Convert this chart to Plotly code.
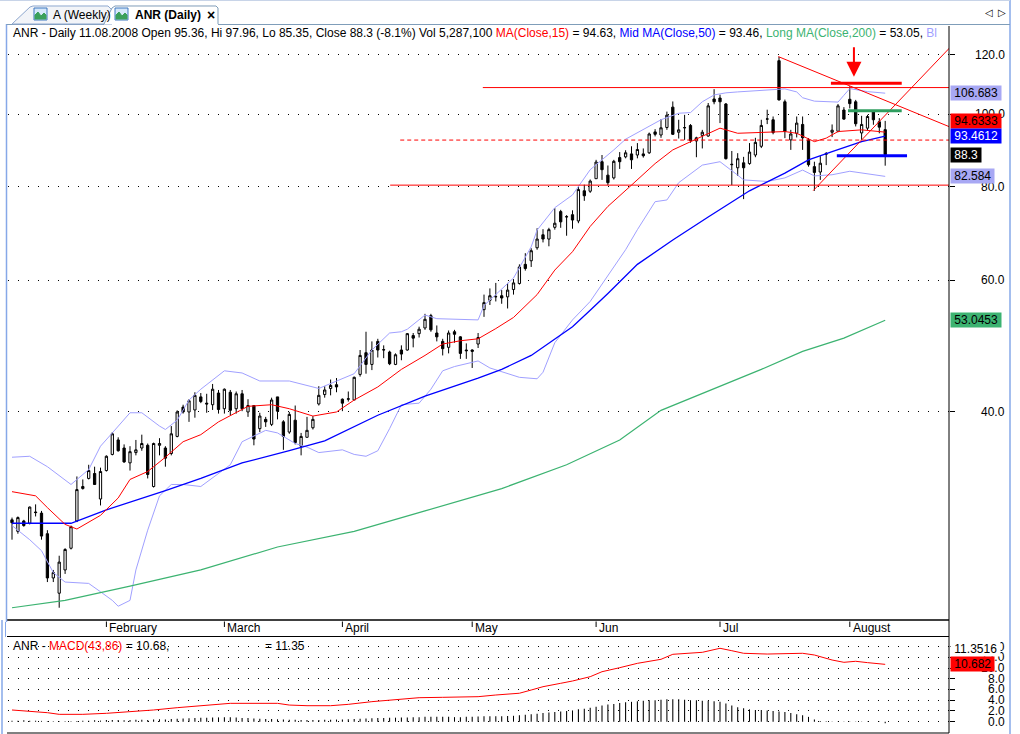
import math
import pandas as pd
import plotly.graph_objects as go

# ---------------- data ----------------
holidays = ["2008-01-21", "2008-02-18", "2008-03-21", "2008-05-26", "2008-07-04"]
dates = [d for d in pd.bdate_range("2008-01-09", "2008-08-11") if d.strftime("%Y-%m-%d") not in holidays]

opens = [28.7, 27.7, 28.6, 28.4, 29.4, 29.3, 27.5, 24.0, 22.9, 24.6,
         26.3, 28.6, 31.6, 32.6, 33.1, 30.6, 33.4, 35.1, 36.7, 35.8,
         34.2, 35.3, 35.8, 36.1, 31.8, 36.1, 35.8, 35.2, 37.1, 40.6,
         40.0, 40.25, 41.9, 41.1, 40.9, 42.4, 40.4, 42.5, 40.4, 42.3,
         40.0, 40.8, 38.0, 39.1, 38.5, 41.9, 38.8, 37.6, 39.0, 36.0,
         37.0, 38.1, 41.0, 42.2, 43.0, 43.5, 41.6, 41.6, 41.5, 44.9,
         48.0, 46.3, 49.7, 48.4, 48.1, 46.3, 48.4, 48.4, 50.6, 50.9,
         51.8, 53.8, 51.0, 49.7, 48.8, 51.2, 50.4, 48.4, 48.4, 49.3,
         54.8, 56.4, 57.0, 57.2, 57.0, 58.3, 59.4, 63.0, 63.7, 66.3,
         69.0, 68.1, 70.6, 74.1, 72.9, 73.4, 72.0, 79.0, 78.9, 82.0,
         86.4, 82.9, 82.2, 87.5, 87.7, 88.5, 88.2, 88.5, 88.8, 94.7,
         93.8, 96.0, 102.2, 94.6, 95.9, 96.6, 92.1, 93.7, 93.5, 104.8,
         105.1, 103.2, 85.6, 84.8, 86.1, 85.9, 88.2, 90.6, 98.5, 98.3,
         117.9, 103.9, 92.4, 94.3, 96.9, 92.4, 85.1, 83.7, 88.4, 94.6,
         94.9, 101.3, 104.7, 103.9, 94.4, 95.8, 100.7, 97.7, 95.36]
highs = [28.9, 29.0, 28.7, 29.9, 30.1, 29.5, 27.8, 24.6, 25.7, 26.3,
         28.2, 32.8, 32.5, 34.0, 33.8, 33.7, 35.0, 37.6, 37.0, 36.2,
         36.0, 36.7, 37.3, 36.3, 36.4, 36.9, 36.0, 38.3, 40.2, 40.9,
         41.6, 42.5, 42.4, 42.3, 43.6, 42.8, 43.0, 42.8, 42.6, 42.8,
         41.6, 40.8, 39.9, 39.4, 41.8, 41.9, 39.0, 40.0, 40.8, 37.5,
         39.4, 39.5, 43.3, 43.3, 44.2, 44.4, 41.7, 42.6, 44.6, 48.4,
         51.2, 49.7, 50.1, 49.1, 48.3, 47.9, 49.1, 51.0, 51.0, 52.0,
         54.1, 54.1, 52.2, 50.1, 51.4, 51.5, 50.5, 49.4, 48.5, 51.0,
         57.4, 58.5, 59.5, 58.2, 59.5, 60.2, 63.0, 65.2, 66.2, 70.4,
         70.2, 70.5, 74.9, 74.5, 73.3, 74.4, 80.0, 80.5, 81.8, 86.9,
         88.2, 85.4, 86.9, 89.0, 89.5, 90.6, 91.5, 90.0, 94.5, 95.5,
         98.5, 100.8, 104.0, 98.3, 99.8, 97.0, 93.3, 95.3, 103.5, 108.0,
         106.2, 103.5, 89.3, 88.7, 87.7, 91.5, 93.0, 98.3, 101.4, 99.3,
         119.3, 104.6, 95.3, 99.3, 99.3, 92.9, 86.4, 87.9, 89.0, 96.9,
         103.2, 102.2, 109.0, 104.5, 99.5, 99.8, 101.0, 98.8, 97.96]
lows = [27.0, 27.5, 28.1, 28.3, 29.0, 27.0, 23.7, 23.7, 21.9, 24.3,
        26.2, 28.5, 31.5, 32.5, 32.0, 30.0, 33.3, 35.0, 35.4, 34.2,
        33.4, 35.0, 35.5, 32.6, 31.7, 35.0, 33.8, 35.0, 37.0, 39.8,
        38.8, 39.3, 41.1, 39.9, 40.25, 39.8, 39.8, 39.6, 39.8, 40.1,
        39.4, 36.1, 37.6, 38.2, 38.3, 39.1, 35.6, 37.4, 36.2, 35.0,
        37.0, 37.9, 40.8, 41.8, 42.1, 42.5, 40.1, 41.3, 41.5, 44.6,
        45.0, 45.5, 47.3, 47.2, 46.2, 46.2, 46.9, 48.3, 48.8, 50.3,
        51.5, 51.2, 49.7, 47.6, 47.9, 49.5, 47.1, 47.1, 45.8, 48.7,
        53.6, 55.6, 56.2, 55.8, 55.0, 57.4, 59.2, 61.8, 62.5, 65.9,
        67.4, 66.6, 70.1, 70.5, 68.8, 70.3, 71.5, 76.6, 78.5, 82.0,
        81.7, 80.4, 81.8, 84.5, 87.3, 84.5, 87.3, 87.5, 88.5, 93.4,
        93.0, 95.3, 93.8, 92.8, 92.4, 91.6, 87.6, 90.0, 93.3, 103.1,
        97.3, 87.0, 80.4, 82.7, 77.0, 85.6, 87.6, 90.1, 97.0, 94.0,
        104.3, 92.9, 89.6, 93.1, 89.6, 85.1, 79.0, 81.7, 85.5, 93.2,
        94.6, 98.3, 101.8, 96.3, 92.4, 95.1, 96.8, 94.3, 85.35]
closes = [28.45, 28.9, 28.2, 29.85, 29.35, 27.3, 24.0, 24.4, 25.2, 26.2,
          28.1, 31.5, 31.8, 33.4, 32.0, 33.3, 34.9, 37.4, 35.5, 34.3,
          35.4, 35.6, 36.3, 33.0, 36.3, 36.3, 34.7, 37.4, 40.0, 40.0,
          41.4, 42.1, 41.3, 41.0, 42.9, 40.3, 42.9, 40.2, 42.3, 40.4,
          40.8, 36.8, 39.5, 38.8, 41.5, 40.1, 37.1, 39.7, 36.4, 37.1,
          37.8, 39.1, 42.1, 42.8, 43.4, 43.2, 41.1, 41.65, 44.5, 47.6,
          46.3, 48.4, 48.4, 48.45, 46.4, 47.7, 47.8, 50.9, 50.2, 51.6,
          53.2, 51.5, 50.4, 48.6, 51.0, 50.8, 47.9, 48.3, 48.2, 50.3,
          56.0, 57.2, 57.05, 56.8, 58.2, 59.5, 62.5, 62.2, 65.7, 68.1,
          68.1, 70.1, 71.5, 71.8, 72.95, 72.2, 79.3, 77.8, 81.4, 86.3,
          84.3, 81.0, 86.5, 86.4, 88.8, 86.9, 89.7, 88.0, 94.1, 94.0,
          95.9, 99.7, 94.0, 95.3, 95.95, 92.2, 93.0, 94.6, 102.6, 103.9,
          103.9, 87.2, 85.7, 87.2, 84.8, 89.0, 91.7, 96.6, 98.55, 94.5,
          104.5, 94.8, 94.1, 97.3, 93.0, 85.6, 83.6, 86.0, 88.6, 95.2,
          102.6, 98.5, 103.3, 97.1, 96.9, 99.3, 98.3, 96.1, 88.3]
volume_last = "5,287,100"

ma15_idx = [0, 4, 6, 9, 11, 15, 18, 20, 23, 26, 29, 32, 35, 40, 44, 47, 51, 55, 58, 62,
            66, 70, 73, 76, 79, 82, 85, 89, 92, 95, 98, 101, 105, 109, 112, 115, 118, 120, 123, 128,
            131, 133, 136, 138, 140, 144, 148]
ma15_val = [31.3, 30.9, 29.8, 28.3, 27.9, 29.1, 30.7, 32.5, 33.3, 34.8, 36.5, 37.3, 38.8, 40.7, 40.9, 40.4, 39.5, 40.0, 41.5, 43.2,
            45.6, 47.6, 49.3, 49.8, 50.1, 51.7, 53.5, 57.4, 61.9, 65.5, 70.8, 75.3, 80.4, 85.9, 89.6, 91.8, 94.1, 95.8, 94.3, 94.5,
            94.8, 94.3, 91.9, 92.9, 94.8, 95.3, 94.63]
ma50_idx = [0, 10, 16, 20, 26, 32, 39, 47, 53, 62, 70, 79, 83, 88, 93, 95, 98, 101, 106, 112,
            118, 123, 125, 131, 135, 139, 144, 148]
ma50_val = [28.4, 28.4, 29.6, 30.3, 31.4, 32.6, 34.2, 35.5, 36.6, 39.6, 42.0, 44.4, 45.6, 47.6, 50.7, 52.0, 54.7, 57.6, 63.0, 67.9,
            72.9, 77.3, 79.0, 83.4, 86.9, 89.1, 91.9, 93.46]
ma200_idx = [0, 9, 20, 32, 45, 58, 70, 83, 94, 103, 110, 120, 127, 134, 141, 148]
ma200_val = [21.9, 22.4, 23.4, 24.6, 26.4, 27.7, 29.5, 31.6, 34.0, 36.7, 40.2, 43.3, 45.6, 48.2, 50.2, 53.05]
bbu_idx = [0, 3, 6, 10, 13, 15, 17, 20, 22, 25, 26, 28, 30, 32, 36, 39, 42, 47, 52, 55,
           58, 61, 64, 66, 67, 70, 72, 79, 80, 85, 88, 89, 92, 95, 98, 102, 104, 110, 113, 115,
           117, 119, 121, 123, 128, 131, 133, 134, 136, 140, 141, 142, 145, 148]
bbu_val = [34.8, 34.9, 33.8, 32.0, 33.5, 36.0, 37.5, 39.9, 39.9, 38.3, 37.9, 39.0, 41.5, 42.9, 45.4, 45.1, 44.0, 44.0, 43.0, 44.0,
           45.0, 48.4, 51.0, 51.2, 51.6, 53.9, 53.3, 53.1, 55.5, 60.4, 66.5, 70.0, 75.0, 78.0, 84.3, 89.6, 92.6, 98.3, 100.3, 100.5,
           103.9, 106.1, 106.8, 107.1, 107.8, 108.1, 107.1, 105.2, 104.1, 103.8, 106.0, 108.2, 107.2, 106.683]
bbl_idx = [0, 3, 5, 7, 9, 13, 15, 17, 18, 20, 21, 23, 25, 27, 29, 32, 37, 39, 43, 45,
           48, 50, 52, 55, 56, 58, 60, 62, 64, 66, 69, 71, 73, 75, 79, 81, 86, 89, 90, 92,
           95, 98, 101, 104, 106, 109, 111, 113, 117, 119, 120, 123, 124, 128, 131, 134, 136, 139, 142, 148]
bbl_val = [28.2, 27.0, 26.1, 24.4, 23.7, 23.6, 23.0, 22.4, 22.0, 22.4, 24.6, 27.8, 30.9, 32.0, 32.0, 31.8, 34.0, 36.5, 37.8, 37.5,
           36.3, 35.9, 35.3, 35.5, 35.6, 35.1, 34.9, 35.5, 38.0, 40.9, 41.1, 42.9, 45.4, 46.0, 46.8, 45.8, 44.5, 44.3, 45.2, 49.5,
           53.1, 56.2, 60.8, 65.9, 70.1, 76.4, 76.8, 81.0, 85.5, 86.0, 86.4, 82.9, 81.7, 81.3, 82.2, 84.2, 82.7, 83.0, 83.9, 82.584]

macd_idx = [0, 2, 6, 8, 12, 16, 20, 24, 28, 33, 37, 40, 45, 47, 50, 54, 57, 61, 65, 69,
            73, 79, 82, 86, 88, 90, 93, 95, 98, 100, 103, 106, 110, 112, 117, 119, 120, 122, 124, 128,
            132, 134, 136, 139, 141, 143, 145, 148]
macd_val = [2.18, 2.05, 1.68, 1.37, 1.37, 1.56, 1.86, 2.18, 2.61, 3.1, 3.42, 3.42, 3.42, 3.1, 2.98, 2.98, 3.23, 3.73, 4.04, 4.47,
            4.54, 4.66, 4.97, 5.3, 5.9, 6.52, 7.15, 7.58, 8.38, 9.31, 10.06, 10.87, 11.62, 12.55, 12.92, 13.48, 13.67, 13.22, 12.74, 12.6,
            12.6, 12.74, 12.42, 11.49, 11.06, 11.25, 11.0, 10.68]
macd_hist = [0.2, 0.2, 0.25, 0.2, 0.2, 0.15, 0.1, 0.1, 0.1,
             0.1, 0.1, 0.15, 0.2, 0.2, 0.25, 0.2, 0.3,
             0.3, 0.3, 0.25, 0.3, 0.35, 0.35, 0.3, 0.4,
             0.45, 0.4, 0.5, 0.55, 0.6, 0.65, 0.7,
             0.75, 0.75, 0.8, 0.8, 0.85, 0.85, 0.8,
             0.7, 0.7, 0.6, 0.55, 0.5, 0.5, 0.45,
             0.4, 0.35, 0.35, 0.3, 0.3, 0.3, 0.3, 0.35, 0.35,
             0.4, 0.4, 0.45, 0.5, 0.55, 0.6, 0.65, 0.7, 0.7,
             0.75, 0.75, 0.8, 0.8, 0.85, 0.85, 0.9, 0.9, 0.9,
             0.9, 0.9, 0.85, 0.85, 0.9, 0.9, 0.95, 1.0, 1.0,
             1.0, 1.0, 1.05, 1.1, 1.2, 1.3, 1.4, 1.5, 1.6,
             1.7, 1.8, 1.9, 2.0, 2.1, 2.3, 2.4, 2.6,
             2.8, 3.0, 3.2, 3.3, 3.5, 3.6, 3.7, 3.8,
             3.9, 4.0, 4.0, 4.1, 4.2, 4.2, 4.2, 4.1,
             4.0, 4.0, 3.9, 3.9, 3.8, 3.7, 3.4,
             3.0, 2.7, 2.5, 2.3, 2.2, 2.2, 2.1,
             2.0, 1.9, 1.8, 1.6, 1.4, 1.2, 0.9,
             0.4, 0.15, 0.1, 0.05, 0.05, 0.05,
             0.05, 0.05, 0.05, 0.05, 0.0, 0.05, -0.3]
macd_signal_last = 11.3516
macd_last = 10.682

month_labels = ["February", "March", "April", "May", "Jun", "Jul", "August"]
price_ticks = [40, 60, 80, 100, 120]
macd_ticks = [0, 2, 4, 6, 8, 10, 12, 14]

# drawings (bar index, price)
desc_line = ([129.88, 158.9], [119.4, 96.2])
asc_line = ([135.8, 158.9], [79.05, 122.6])
hlines = [  # (start index, price, colour, width, dash)
    (79.8, 108.54, "#ff0000", 1, "solid"),
    (64.1, 80.39, "#ff0000", 1, "solid"),
    (65.8, 92.35, "#ff0000", 1, "4px,3px"),
]
short_lines = [  # (x0, x1, price, colour)
    (138.8, 150.8, 110.0, "#ff0000"),
    (141.7, 150.8, 101.1, "#2f9e5f"),
    (139.8, 151.7, 88.0, "#0000ff"),
]
arrow_at = (142.7, 112.2)

# ---------------- layout helpers ----------------
W, H = 1020, 734
def fx(p): return p / W
def fy(p): return 1 - p / H

PL, PR = 8, 949
X0, DX = 12, 5.9
xr = [(PL - X0) / DX, (PR - X0) / DX]
LA, LB = 1610.7, 324.96
def lg(p): return (LA - p) / LB / math.log(10)
MAIN_TOP, MAIN_BOT = 26, 620
MACD_TOP, MACD_BOT = 637, 733
Z0, ZS = 721.7, 5.37

idx = list(range(len(closes)))
FONT = "Arial, Liberation Sans, sans-serif"
BBC = "#a0a0ff"
GREEN = "#3cb371"

fig = go.Figure()
fig.add_trace(go.Scatter(x=bbu_idx, y=bbu_val, mode="lines", line=dict(color=BBC, width=1), hoverinfo="skip"))
fig.add_trace(go.Scatter(x=bbl_idx, y=bbl_val, mode="lines", line=dict(color=BBC, width=1), hoverinfo="skip"))
fig.add_trace(go.Scatter(x=ma200_idx, y=ma200_val, mode="lines", line=dict(color=GREEN, width=1.2), hoverinfo="skip"))
fig.add_trace(go.Scatter(x=ma50_idx, y=ma50_val, mode="lines", line=dict(color="#0000ff", width=1.3), hoverinfo="skip"))
fig.add_trace(go.Scatter(x=ma15_idx, y=ma15_val, mode="lines", line=dict(color="#ff0000", width=1), hoverinfo="skip"))
fig.add_trace(go.Candlestick(
    x=idx, open=opens, high=highs, low=lows, close=closes,
    increasing=dict(line=dict(color="black", width=1), fillcolor="white"),
    decreasing=dict(line=dict(color="black", width=1), fillcolor="black"),
    whiskerwidth=0, hoverinfo="skip"))

# drawings
fig.add_trace(go.Scatter(x=desc_line[0], y=desc_line[1], mode="lines", line=dict(color="#ff0000", width=1), hoverinfo="skip"))
fig.add_trace(go.Scatter(x=asc_line[0], y=asc_line[1], mode="lines", line=dict(color="#ff0000", width=1), hoverinfo="skip"))
for x0, p, c, w, d in hlines:
    fig.add_trace(go.Scatter(x=[x0, xr[1] + 1], y=[p, p], mode="lines",
                             line=dict(color=c, width=w, dash=d), hoverinfo="skip"))
for x0, x1, p, c in short_lines:
    fig.add_trace(go.Scatter(x=[x0, x1], y=[p, p], mode="lines", line=dict(color=c, width=3), hoverinfo="skip"))

# MACD panel
fig.add_trace(go.Bar(x=idx, y=macd_hist, width=0.18, marker=dict(color="black", line=dict(width=0)),
                     xaxis="x2", yaxis="y2", hoverinfo="skip"))
fig.add_trace(go.Scatter(x=macd_idx, y=macd_val, mode="lines", line=dict(color="#ff0000", width=1),
                         xaxis="x2", yaxis="y2", hoverinfo="skip"))

fig.update_layout(
    width=W, height=H, margin=dict(l=0, r=0, t=0, b=0),
    paper_bgcolor="white", plot_bgcolor="white", showlegend=False,
    boxgap=0.45, hovermode=False,
    font=dict(family=FONT, size=12, color="black"),
    xaxis=dict(domain=[fx(PL), fx(PR)], range=xr, showgrid=False, zeroline=False,
               showticklabels=False, rangeslider=dict(visible=False), anchor="y"),
    yaxis=dict(type="log", domain=[fy(MAIN_BOT), fy(MAIN_TOP)], range=[lg(MAIN_BOT), lg(MAIN_TOP)],
               side="right", anchor="x", tickvals=price_ticks, showticklabels=False,
               ticks="outside", ticklen=5, tickcolor="black",
               showgrid=True, gridcolor="black", gridwidth=1, griddash="1px,9px", zeroline=False),
    xaxis2=dict(domain=[fx(PL), fx(PR)], range=xr, showgrid=False, zeroline=False,
                showticklabels=False, anchor="y2"),
    yaxis2=dict(domain=[fy(MACD_BOT), fy(MACD_TOP)],
                range=[(Z0 - MACD_BOT) / ZS, (Z0 - MACD_TOP) / ZS],
                side="right", anchor="x2", tickvals=macd_ticks, showticklabels=False,
                ticks="outside", ticklen=5, tickcolor="black",
                showgrid=True, gridcolor="black", gridwidth=1, griddash="1px,9px", zeroline=False),
)

shapes = []
def pline(x0, y0, x1, y1, color="black", width=1):
    shapes.append(dict(type="line", xref="paper", yref="paper", x0=fx(x0), y0=fy(y0), x1=fx(x1), y1=fy(y1),
                       line=dict(color=color, width=width)))
def ppath(pts, fill, line, close=True):
    d = "M " + " L ".join(f"{fx(a):.5f},{fy(b):.5f}" for a, b in pts) + (" Z" if close else "")
    shapes.append(dict(type="path", xref="paper", yref="paper", path=d, fillcolor=fill,
                       line=dict(color=line, width=1)))

# frame lines
pline(7, 620, PR, 620, "black", 1.5)
pline(7, MACD_TOP - 0.5, PR, MACD_TOP - 0.5)
pline(7, MACD_BOT, PR, MACD_BOT)
pline(PR, MAIN_TOP, PR, MACD_BOT)
pline(6.5, 24, 6.5, 622, "#86a8e8", 1.5)
pline(2, 620, 2, H, "#86a8e8", 1.5)
pline(5.5, 622, 5.5, 637, "#86a8e8", 1)
pline(1010, 0, 1010, H, "#86a8e8", 1.5)
pline(0, 0.5, 1010, 0.5, "#c8d4e8", 1)
# tabs
pline(6.5, 24.5, 104, 24.5, "#7f9db9")
pline(218, 24.5, 1010, 24.5, "#7f9db9")
ppath([(12, 24), (30, 7), (33, 6), (108, 6), (112, 10), (112, 24)], "#f2f4f8", "#8fa8cf")
ppath([(104, 24), (112, 8), (115, 6), (216, 6), (218, 8), (218, 24)], "white", "#7f9db9", close=False)
for ix in (34, 115):
    ppath([(ix, 8), (ix + 13, 8), (ix + 13, 20), (ix, 20)], "#d6e8fa", "#3f78c0")
    ppath([(ix + 1, 19), (ix + 1, 15), (ix + 4, 12), (ix + 7, 16), (ix + 10, 13), (ix + 12, 15), (ix + 12, 19)],
          "#3aa05a", "#3aa05a")
# month ticks
month_pos = []
for k in range(1, len(dates)):
    if dates[k].month != dates[k - 1].month:
        month_pos.append(k)
for k in month_pos:
    shapes.append(dict(type="line", xref="x", yref="paper", x0=k, x1=k, y0=fy(621.5), y1=fy(627),
                       line=dict(color="black", width=1)))
fig.update_layout(shapes=shapes)

ann = []
def text(xp, yp, s, size=12, anchor="left", color="black", **kw):
    ann.append(dict(xref="paper", yref="paper", x=fx(xp), y=fy(yp), text=s, showarrow=False,
                    xanchor=anchor, yanchor="middle", font=dict(family=FONT, size=size, color=color), **kw))

text(51, 15, "A (Weekly)")
text(133, 15, "<b>ANR (Daily)</b>")
text(205, 15, "<b>×</b>", size=14)
text(989, 12, "◁", size=10, anchor="center")
text(1002, 12, "▷", size=10, anchor="center")

chg = (closes[-1] / closes[-2] - 1) * 100
hdr = (f"ANR - Daily {dates[-1].strftime('%d.%m.%Y')} Open {opens[-1]}, Hi {highs[-1]}, Lo {lows[-1]}, "
       f"Close {closes[-1]} ({chg:.1f}%) Vol {volume_last} "
       f"<span style='color:#ff0000'>MA(Close,15)</span> = {ma15_val[-1]:.2f}, "
       f"<span style='color:#0000ff'>Mid MA(Close,50)</span> = {ma50_val[-1]:.2f}, "
       f"<span style='color:{GREEN}'>Long MA(Close,200)</span> = {ma200_val[-1]:.2f}, "
       f"<span style='color:{BBC}'>Bl</span>")
text(11, 33.5, hdr)
text(11, 646, f"ANR - <span style='color:#ff0000'>MACD(43,86)</span> = {macd_val[-1]:.2f},")
text(263, 646, f"= {macd_signal_last:.2f}")

for lab, k in zip(month_labels, month_pos):
    ann.append(dict(xref="x", yref="paper", x=k, y=fy(628), text=lab, showarrow=False, xanchor="left",
                    yanchor="middle", xshift=1, font=dict(family=FONT, size=12)))

for v in price_ticks:
    ann.append(dict(xref="paper", yref="y", x=fx(1007), y=math.log10(v), text=f"{v:.1f}", showarrow=False,
                    xanchor="right", yanchor="middle", font=dict(family=FONT, size=12)))
for v in macd_ticks:
    ann.append(dict(xref="paper", yref="y2", x=fx(1007), y=v, text=f"{v:.1f}", showarrow=False,
                    xanchor="right", yanchor="middle", font=dict(family=FONT, size=12)))

def box(yref, yv, s, bg, fg, yshift=0):
    ann.append(dict(xref="paper", yref=yref, x=fx(950), y=yv, text=s, showarrow=False, xanchor="left",
                    yanchor="middle", bgcolor=bg, borderpad=0, yshift=yshift,
                    font=dict(family=FONT, size=12, color=fg)))

box("y", math.log10(bbu_val[-1]), f" {bbu_val[-1]:.3f} ", "#a8a8f4", "black")
box("y", math.log10(ma15_val[-1]), " 94.6333 ", "#ff0000", "black", yshift=11)
box("y", math.log10(ma50_val[-1]), " 93.4612 ", "#0000ff", "white")
box("y", math.log10(closes[-1]), f" {closes[-1]} ", "black", "white")
box("y", math.log10(bbl_val[-1]), f" {bbl_val[-1]:.3f} ", "#a8a8f4", "black")
box("y", math.log10(ma200_val[-1]), " 53.0453 ", GREEN, "black")
box("y2", macd_signal_last, f" {macd_signal_last} ", "white", "black", yshift=12)
box("y2", macd_last, f" {macd_last} ", "#ff0000", "black")

ann.append(dict(xref="x", yref="y", x=arrow_at[0], y=math.log10(arrow_at[1]), ax=0, ay=-31, text="",
                showarrow=True, arrowhead=2, arrowsize=1.5, arrowwidth=2, arrowcolor="#ff0000", standoff=0))
fig.update_layout(annotations=ann)

fig.write_html("out.html", config={"displayModeBar": False, "staticPlot": True},
               post_script="document.body.style.margin='0';document.body.style.overflow='hidden';")
